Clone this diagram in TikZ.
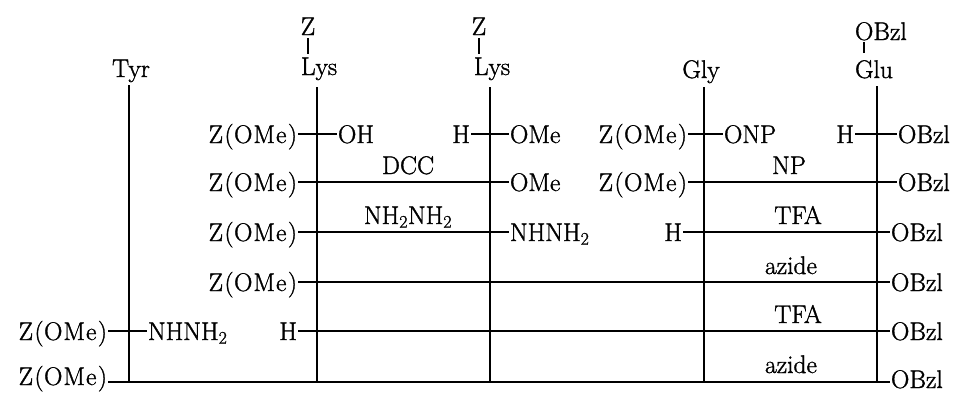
\documentclass[tikz,border=0pt]{standalone}
\usepackage{fontspec}
\setmainfont{Latin Modern Roman}[FakeBold=1.3]
% protecting group with slightly opened letter spacing
\newcommand\zome{Z\kern1.5pt(\kern0.5pt O\kern1pt M\kern1pt e\kern1.5pt)}
\newcommand\hyd{NHNH\textsubscript{2}}
\begin{document}
\begin{tikzpicture}[x=1pt,y=-1pt,
  lbl/.style={inner sep=1pt, outer sep=0pt, font=\fontsize{25.5}{30}\selectfont},
  bond/.style={line width=1.5pt},
  chainline/.style={line width=1.7pt},
  sidebond/.style={line width=1.2pt}]
\useasboundingbox (0,0) rectangle (956,392);

% heights of the reaction rows
\coordinate (r1) at (0,134);
\coordinate (r2) at (0,182);
\coordinate (r3) at (0,232);
\coordinate (r4) at (0,282);
\coordinate (r5) at (0,331);
\coordinate (r6) at (0,382);

% residues and side-chain protection
\node[lbl, anchor=base] (tyr) at (131,77) {Tyr};
\node[lbl, anchor=base] (lysA) at (319,75) {Lys};
\node[lbl, anchor=base] (zA) at (308,35) {Z};
\node[lbl, anchor=base] (lysB) at (492,75) {Lys};
\node[lbl, anchor=base] (zB) at (479,35) {Z};
\node[lbl, anchor=base] (gly) at (701,78) {Gly};
\node[lbl, anchor=base] (glu) at (874,78) {Glu};
\node[lbl, anchor=base west] (obzlTop) at (854,40) {OBzl};

\draw[sidebond, shorten <=2pt, shorten >=3pt] (zA.south) -- (zA.south |- lysA.north);
\draw[sidebond, shorten <=2pt, shorten >=3pt] (zB.south) -- (zB.south |- lysB.north);
\coordinate (oBzlO) at ([xshift=10pt]obzlTop.south west);
\draw[sidebond, shorten <=1pt, shorten >=6pt] (oBzlO) -- (oBzlO |- glu.north);

% residue chains
\coordinate (tTyr) at (129,85);
\coordinate (tLysA) at (317,87);
\coordinate (tLysB) at (490,87);
\coordinate (tGly) at (704,87);
\coordinate (tGlu) at (877,86);
\foreach \t in {tTyr,tLysA,tLysB,tGly,tGlu}
  \draw[chainline] (\t) -- (\t |- r6);

% row 1
\node[lbl, anchor=base east] (a1) at (298,143) {\zome};
\node[lbl, anchor=base west] (oh) at (337,143) {OH};
\node[lbl, anchor=base east] (h1) at (471,143) {H};
\node[lbl, anchor=base west] (ome1) at (509,143) {OMe};
\node[lbl, anchor=base east] (c1) at (688,143) {\zome};
\node[lbl, anchor=base west] (onp) at (723,143) {ONP};
\node[lbl, anchor=base east] (h1b) at (855,143) {H};
\node[lbl, anchor=base west] (obzl1) at (897,143) {OBzl};
\draw[bond] (a1.east |- r1) -- (oh.west |- r1);
\draw[bond] (h1.east |- r1) -- (ome1.west |- r1);
\draw[bond] (c1.east |- r1) -- (onp.west |- r1);
\draw[bond] (h1b.east |- r1) -- (obzl1.west |- r1);

% row 2
\node[lbl, anchor=base east] (a2) at (298,191) {\zome};
\node[lbl, anchor=base west] (ome2) at (509,191) {OMe};
\node[lbl, anchor=base] (dcc) at (408,174) {DCC};
\node[lbl, anchor=base east] (c2) at (688,191) {\zome};
\node[lbl, anchor=base west] (obzl2) at (897,191) {OBzl};
\node[lbl, anchor=base] (np) at (789,174) {NP};
\draw[bond] (a2.east |- r2) -- (ome2.west |- r2);
\draw[bond] (c2.east |- r2) -- (obzl2.west |- r2);

% row 3
\node[lbl, anchor=base east] (a3) at (298,241) {\zome};
\node[lbl, anchor=base west] (hz3) at (509,241) {\hyd};
\node[lbl, anchor=base] (nhnh) at (408,224) {NH\textsubscript{2}NH\textsubscript{2}};
\node[lbl, anchor=base east] (h3) at (683,241) {H};
\node[lbl, anchor=base west] (obzl3) at (890,241) {OBzl};
\node[lbl, anchor=base] (tfa3) at (798,224) {TFA};
\draw[bond] (a3.east |- r3) -- (hz3.west |- r3);
\draw[bond] (h3.east |- r3) -- (obzl3.west |- r3);

% row 4
\node[lbl, anchor=base east] (a4) at (298,291) {\zome};
\node[lbl, anchor=base west] (obzl4) at (890,291) {OBzl};
\node[lbl, anchor=base] (az4) at (791,274) {azide};
\draw[bond] (a4.east |- r4) -- (obzl4.west |- r4);

% row 5
\node[lbl, anchor=base east] (d5) at (108,340) {\zome};
\node[lbl, anchor=base west] (hz5) at (147,340) {\hyd};
\node[lbl, anchor=base east] (h5) at (298,340) {H};
\node[lbl, anchor=base west] (obzl5) at (890,340) {OBzl};
\node[lbl, anchor=base] (tfa5) at (798,323) {TFA};
\draw[bond] (d5.east |- r5) -- (hz5.west |- r5);
\draw[bond] (h5.east |- r5) -- (obzl5.west |- r5);

% row 6
\node[lbl, anchor=base east] (d6) at (108,385) {\zome};
\node[lbl, anchor=base west] (obzl6) at (890,388) {OBzl};
\node[lbl, anchor=base] (az6) at (791,373) {azide};
\draw[bond] (d6.east |- r6) -- (obzl6.west |- r6);
\end{tikzpicture}
\end{document}
